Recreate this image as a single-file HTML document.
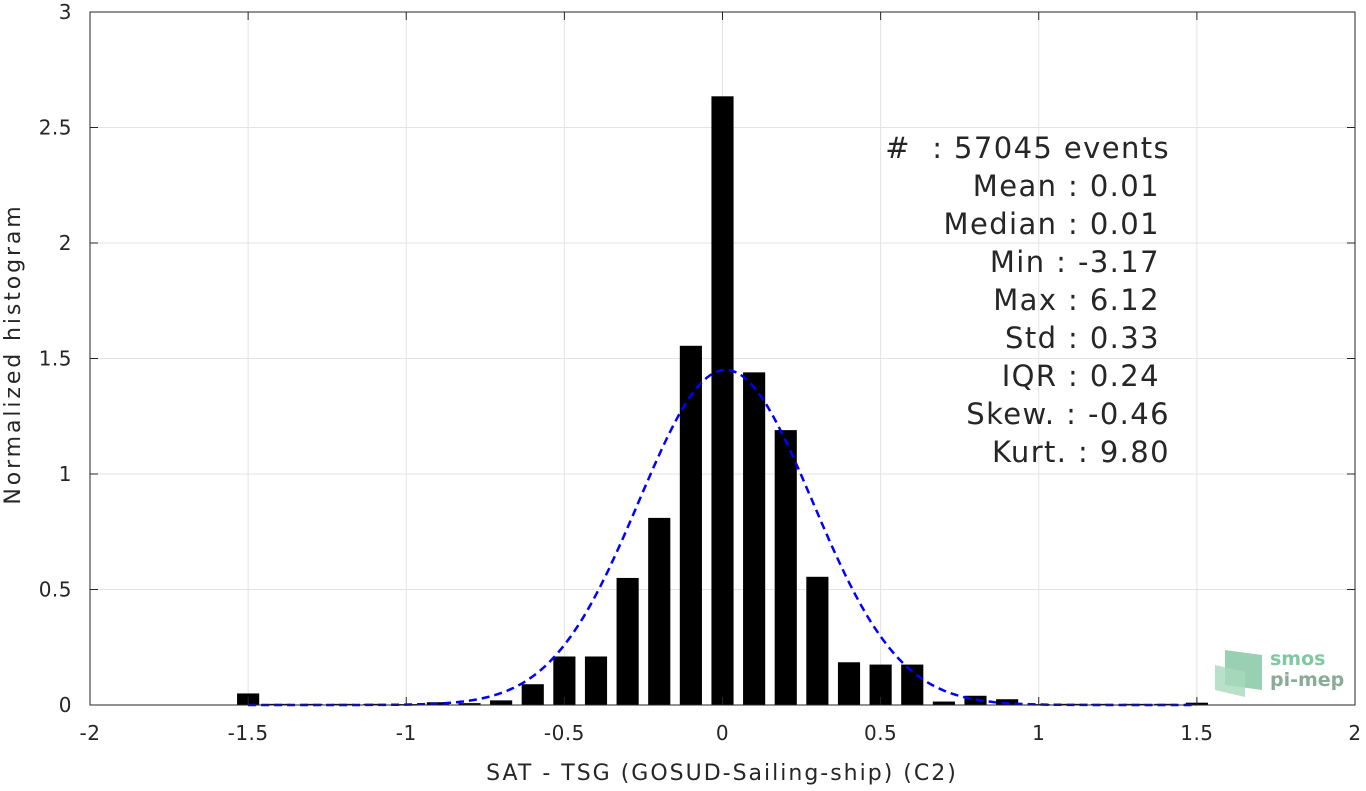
<!DOCTYPE html>
<html><head><meta charset="utf-8"><style>
body{margin:0;background:#fff;font-family:"Liberation Sans","DejaVu Sans",sans-serif}
svg text{font-family:"DejaVu Sans","Liberation Sans",sans-serif;fill:#262626;white-space:pre}
</style></head><body>
<svg id="chart" width="1366" height="786" xmlns="http://www.w3.org/2000/svg">
<rect x="0" y="0" width="1366" height="786" fill="#fff"/>
<g id="grid"></g>
<g id="bars"></g>
<path id="fit" fill="none" stroke="#0000ff" stroke-width="2.5" stroke-dasharray="8,5"/>
<g id="axes"></g>
<text x="722" y="780" font-size="22" letter-spacing="2" text-anchor="middle">SAT - TSG (GOSUD-Sailing-ship) (C2)</text>
<text transform="translate(20,354) rotate(-90)" font-size="22" letter-spacing="2.9" text-anchor="middle">Normalized histogram</text>
<g font-size="29" letter-spacing="1.4" text-anchor="end">
<text x="1170" y="158" fill="#000">#  : 57045 events</text>
<text x="1160" y="196" fill="#000">Mean : 0.01</text>
<text x="1160" y="234" fill="#000">Median : 0.01</text>
<text x="1160" y="272" fill="#000">Min : -3.17</text>
<text x="1160" y="310" fill="#000">Max : 6.12</text>
<text x="1160" y="348" fill="#000">Std : 0.33</text>
<text x="1160" y="386" fill="#000">IQR : 0.24</text>
<text x="1170" y="424" fill="#000">Skew. : -0.46</text>
<text x="1170" y="462" fill="#000">Kurt. : 9.80</text>
</g>
<g>
<polygon points="1225,650 1262,655 1262,690 1225,685" fill="#7fc4a0" opacity="0.8"/>
<polygon points="1215,665 1245,672 1245,697 1215,690" fill="#a8d8bb" opacity="0.8"/>
<text x="1270" y="665" font-size="19" font-weight="bold" style="fill:#7fc9a0">smos</text>
<text x="1270" y="686" font-size="19" font-weight="bold" style="fill:#8aab98">pi-mep</text>
</g>
</svg>
<script>
const binCenters=[-1.5,-1.4,-1.3,-1.2,-1.1,-1.0,-0.9,-0.8,-0.7,-0.6,-0.5,-0.4,-0.3,-0.2,-0.1,0,0.1,0.2,0.3,0.4,0.5,0.6,0.7,0.8,0.9,1.0,1.1,1.2,1.3,1.4,1.5];
const binValues=[0.05,0.005,0.005,0.005,0.005,0.004,0.012,0.008,0.02,0.09,0.21,0.21,0.55,0.81,1.555,2.635,1.44,1.19,0.555,0.185,0.175,0.175,0.015,0.04,0.025,0.004,0.005,0.005,0.005,0.005,0.01];
const fitParams=[0.01,0.275];
const xTicks=[-2,-1.5,-1,-0.5,0,0.5,1,1.5,2];
const xTickLabels=["-2","-1.5","-1","-0.5","0","0.5","1","1.5","2"];
const yTicks=[0,0.5,1,1.5,2,2.5,3];
const yTickLabels=["0","0.5","1","1.5","2","2.5","3"];
const L=90,R=1355,T=12,B=705;
const X=v=>L+(v+2)/4*(R-L);
const Y=v=>B-v/3*(B-T);
const NS="http://www.w3.org/2000/svg";
function mk(tag,attrs,parent){const e=document.createElementNS(NS,tag);for(const k in attrs)e.setAttribute(k,attrs[k]);parent.appendChild(e);return e;}
const grid=document.getElementById('grid'),axes=document.getElementById('axes'),bars=document.getElementById('bars');
xTicks.forEach((t,i)=>{
  const g=mk('line',{x1:X(t),x2:X(t),y1:T,y2:B,stroke:'#e3e3e3','stroke-width':1},grid);
  
  
  mk('line',{x1:X(t),x2:X(t),y1:B,y2:B-8,stroke:'#262626'},axes);
  mk('line',{x1:X(t),x2:X(t),y1:T,y2:T+8,stroke:'#262626'},axes);
  const tx=mk('text',{x:X(t),y:B+35,'font-size':20,'letter-spacing':0.5,'text-anchor':'middle'},axes);
  tx.textContent=xTickLabels[i];
  
  
});
yTicks.forEach((t,i)=>{
  const g=mk('line',{x1:L,x2:R,y1:Y(t),y2:Y(t),stroke:'#e3e3e3','stroke-width':1},grid);
  
  
  mk('line',{x1:L,x2:L+8,y1:Y(t),y2:Y(t),stroke:'#262626'},axes);
  mk('line',{x1:R,x2:R-8,y1:Y(t),y2:Y(t),stroke:'#262626'},axes);
  const tx=mk('text',{x:L-18,y:Y(t)+7,'font-size':20,'letter-spacing':0.5,'text-anchor':'end'},axes);
  tx.textContent=yTickLabels[i];
  
  
});
mk('rect',{x:L,y:T,width:R-L,height:B-T,fill:'none',stroke:'#262626','stroke-width':1},axes);
const bw=(X(0.07)-X(0));
binCenters.forEach((c,i)=>{
  const h=B-Y(binValues[i]);
  const r=mk('rect',{x:X(c)-bw/2,y:Y(binValues[i]),width:bw,height:Math.max(h,1.5),fill:'#000'},bars);
  
  
});
let d='';
for(let i=0;i<=300;i++){const x=-1.5+i*0.01;const v=Math.exp(-0.5*((x-fitParams[0])/fitParams[1])**2)/(fitParams[1]*Math.sqrt(2*Math.PI));d+=(i?'L':'M')+X(x).toFixed(1)+','+Y(v).toFixed(1);}
document.getElementById('fit').setAttribute('d',d);
</script>
</body></html>
